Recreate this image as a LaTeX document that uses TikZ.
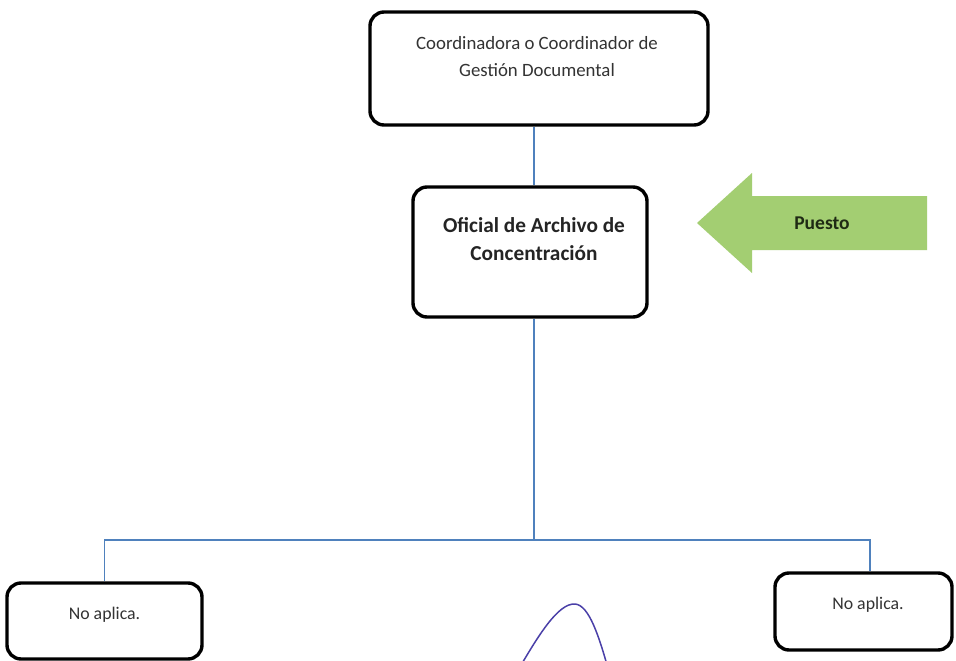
\documentclass[tikz,border=0pt]{standalone}
\usepackage{fontspec}
\setmainfont{Carlito}
\definecolor{linkblue}{HTML}{4F81BD}
\definecolor{arrowgreen}{HTML}{A3CE72}
\definecolor{puestotxt}{HTML}{1F2A14}
\definecolor{boxtxt}{HTML}{333333}
\definecolor{sigcol}{HTML}{4A40A8}
\begin{document}
\begin{tikzpicture}[x=1pt,y=-1pt,
  box/.style={draw=black, line width=3.4pt, rounded corners=14pt, fill=white, inner sep=0pt},
  conn/.style={draw=linkblue, line width=1.4pt},
  regtxt/.style={text=boxtxt, align=center, inner sep=0pt},
  boldtxt/.style={text=boxtxt!70!black, align=center, inner sep=0pt, font=\bfseries\fontsize{21.3}{28}\selectfont},
  sig/.style={draw=sigcol, line width=1.5pt, line cap=round}]
\useasboundingbox (0,0) rectangle (956,661);
\clip (0,0) rectangle (956,661);
\fill[white] (0,0) rectangle (956,661);

% boxes
\node[box, minimum width=338pt, minimum height=113pt] (coord) at (539,68.5) {};
\node[regtxt, font=\fontsize{18.8}{27}\selectfont] (coordtxt) at (537,56.5) {Coordinadora o Coordinador de\\Gestión Documental};

\node[box, minimum width=234pt, minimum height=130pt] (oficial) at (530,252) {};
\node[boldtxt] (oficialtxt) at (534,239) {Oficial de Archivo de\\Concentración};

\node[box, minimum width=195pt, minimum height=76pt] (left) at (104.5,621) {};
\node[regtxt, font=\fontsize{17.8}{24}\selectfont] (lefttxt) at (104.5,615) {No aplica.};

\node[box, minimum width=177pt, minimum height=77pt] (right) at (863.5,611.5) {};
\node[regtxt, font=\fontsize{17.8}{24}\selectfont] (righttxt) at (868,605) {No aplica.};

% connectors
\coordinate (bus) at (534,540);
\draw[conn] ([xshift=4pt]oficial.north |- coord.south) -- ([xshift=4pt]oficial.north);
\draw[conn] ([xshift=4pt]oficial.south) -- (bus);
\draw[conn] (left.north) |- (bus);
\draw[conn] ([xshift=6.5pt]right.north) |- (bus);

% arrow
\fill[arrowgreen] (697,223) -- (752,173) -- (752,196) -- (927,196) -- (927,250) -- (752,250) -- (752,273) -- cycle;
\node[inner sep=0pt, text=puestotxt, font=\bfseries\fontsize{19.5}{24}\selectfont] (puesto) at (822,223) {Puesto};

% signature stroke
\draw[sig] (517,672) .. controls (538,636) and (558,603) .. (575,604) .. controls (589,605) and (599,636) .. (609,672);
\end{tikzpicture}
\end{document}
